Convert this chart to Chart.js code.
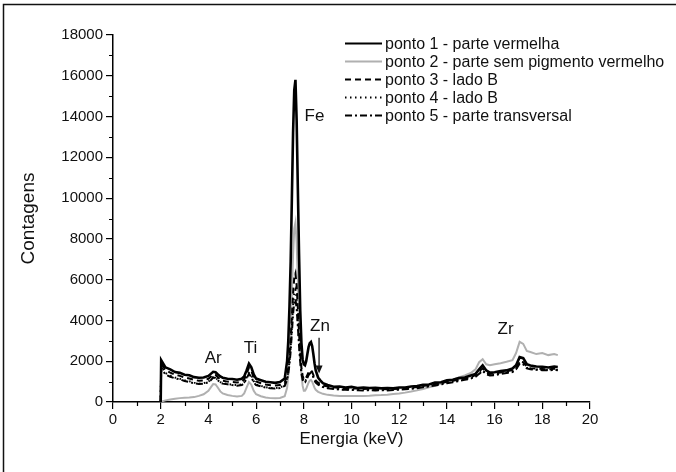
<!DOCTYPE html>
<html>
<head>
<meta charset="utf-8">
<script src="https://cdn.jsdelivr.net/npm/chart.js@4.4.1/dist/chart.umd.min.js"></script>
<style>
  html, body { margin: 0; padding: 0; background: #fff; }
  canvas { display: block; }
</style>
</head>
<body>
<canvas id="xrf" width="676" height="472"></canvas>
<script>
// energy grid (keV), shared by all spectra
const energyKeV = [
  2.0, 2.02, 2.2, 2.4, 2.6, 2.8, 3.0, 3.2, 3.4, 3.6, 3.8, 4.0, 4.1, 4.2, 4.3, 4.4, 4.5, 4.6, 4.8, 5.0,
  5.2, 5.4, 5.5, 5.6, 5.7, 5.8, 5.9, 6.0, 6.2, 6.4, 6.6, 6.8, 7.0, 7.2,
  7.3, 7.35, 7.4, 7.45, 7.5, 7.55, 7.6, 7.65, 7.7, 7.75, 7.8, 7.85, 7.9, 7.95, 8.0, 8.05,
  8.1, 8.15, 8.2, 8.25, 8.3, 8.35, 8.4, 8.45, 8.5, 8.6, 8.7, 8.8,
  9.0, 9.25, 9.5, 9.75, 10.0, 10.25, 10.5, 10.75, 11.0, 11.25, 11.5, 11.75, 12.0, 12.25, 12.5, 12.75,
  13.0, 13.25, 13.5, 13.75, 14.0, 14.25, 14.5, 14.75, 15.0, 15.2, 15.35, 15.5, 15.65, 15.8,
  16.0, 16.25, 16.5, 16.75, 16.9, 17.05, 17.2, 17.35, 17.5, 17.75, 18.0, 18.25, 18.5, 18.65
];

// counts
const ponto1 = [
  0, 2050, 1700, 1600, 1470, 1430, 1340, 1310, 1220, 1190, 1200, 1280, 1380, 1480, 1460, 1350, 1250, 1190, 1140, 1130,
  1090, 1140, 1250, 1550, 1880, 1700, 1350, 1150, 1070, 990, 970, 940, 980, 1150,
  2000, 3000, 4700, 6900, 10000, 13200, 15300, 15800, 13800, 10500, 7300, 4500, 2900, 2100, 1850, 1800,
  2000, 2350, 2700, 2880, 2940, 2750, 2350, 1900, 1550, 1200, 1050, 920,
  830, 750, 760, 710, 740, 690, 710, 690, 700, 670, 690, 670, 710, 710, 760, 780,
  840, 860, 950, 970, 1060, 1090, 1170, 1200, 1300, 1380, 1600, 1800, 1550, 1440,
  1460, 1520, 1550, 1640, 1800, 2200, 2150, 1850, 1790, 1740, 1730, 1690, 1740, 1720
];
const ponto2 = [
  0, 20, 80, 120, 160, 190, 210, 220, 240, 300, 380, 550, 720, 880, 860, 700, 520, 420, 340, 300,
  270, 300, 420, 700, 980, 850, 550, 380, 280, 220, 190, 180, 200, 280,
  700, 1300, 2300, 3600, 5300, 7200, 8500, 8800, 7800, 6000, 4000, 2500, 1400, 800, 550, 550,
  650, 800, 950, 1050, 1080, 1000, 850, 700, 600, 500, 450, 400,
  350, 320, 300, 290, 290, 300, 300, 310, 330, 340, 360, 390, 420, 460, 510, 570,
  640, 720, 800, 900, 1000, 1100, 1200, 1300, 1420, 1600, 1950, 2100, 1850, 1800,
  1850, 1900, 1970, 2050, 2400, 2950, 2850, 2500, 2450, 2350, 2400, 2300, 2350, 2300
];
const ponto3 = [
  0, 1900, 1560, 1440, 1340, 1280, 1210, 1150, 1090, 1040, 1060, 1140, 1240, 1340, 1320, 1210, 1110, 1040, 1000, 980,
  960, 990, 1100, 1380, 1680, 1520, 1200, 1010, 920, 860, 820, 810, 830, 950,
  1300, 1700, 2300, 3100, 4200, 5300, 6100, 6300, 5700, 4600, 3400, 2400, 1700, 1300, 1100, 1100,
  1200, 1330, 1460, 1540, 1560, 1480, 1330, 1180, 1060, 950, 880, 820,
  760, 720, 690, 680, 670, 660, 640, 650, 630, 640, 630, 640, 650, 680, 700, 740,
  780, 830, 880, 930, 990, 1040, 1100, 1160, 1220, 1320, 1500, 1650, 1450, 1380,
  1400, 1450, 1500, 1560, 1700, 2000, 1950, 1720, 1660, 1640, 1620, 1600, 1630, 1620
];
const ponto4 = [
  0, 1780, 1420, 1300, 1200, 1140, 1070, 1020, 950, 900, 920, 1000, 1100, 1220, 1200, 1080, 980, 920, 880, 850,
  830, 860, 960, 1200, 1420, 1300, 1020, 860, 790, 730, 690, 680, 710, 820,
  1150, 1500, 2000, 2700, 3700, 4700, 5350, 5500, 5000, 4000, 3000, 2100, 1500, 1150, 1000, 1000,
  1100, 1230, 1360, 1440, 1460, 1390, 1250, 1100, 980, 880, 820, 760,
  700, 660, 640, 620, 620, 600, 610, 590, 600, 590, 600, 610, 620, 640, 670, 700,
  740, 790, 840, 890, 950, 1000, 1060, 1110, 1180, 1260, 1420, 1560, 1400, 1330,
  1350, 1400, 1450, 1500, 1620, 1900, 1880, 1680, 1620, 1600, 1580, 1570, 1590, 1580
];
const ponto5 = [
  0, 1700, 1340, 1240, 1160, 1110, 1030, 980, 920, 880, 900, 970, 1070, 1200, 1180, 1060, 950, 900, 870, 830,
  800, 830, 920, 1150, 1380, 1230, 960, 830, 770, 710, 670, 660, 690, 790,
  1100, 1400, 1850, 2500, 3400, 4300, 4900, 5050, 4600, 3700, 2750, 1950, 1400, 1080, 950, 960,
  1060, 1190, 1320, 1400, 1420, 1350, 1220, 1070, 950, 850, 790, 730,
  670, 640, 610, 600, 590, 580, 570, 580, 570, 580, 570, 590, 600, 620, 640, 680,
  720, 760, 810, 860, 920, 970, 1030, 1090, 1150, 1230, 1380, 1520, 1360, 1300,
  1320, 1370, 1420, 1470, 1600, 1880, 1850, 1650, 1600, 1580, 1560, 1550, 1570, 1560
];

const seriesLabels = [
  'ponto 1 - parte vermelha',
  'ponto 2 - parte sem pigmento vermelho',
  'ponto 3 - lado B',
  'ponto 4 - lado B',
  'ponto 5 - parte transversal'
];

const FONT = '"Liberation Sans", Arial, sans-serif';

function toPoints(values) {
  return energyKeV.map((e, i) => ({ x: e, y: values[i] }));
}

// element labels and the Zn arrow
const peakLabels = [
  { text: 'Ar', x: 4.2, y: 2150 },
  { text: 'Ti', x: 5.77, y: 2620 },
  { text: 'Fe', x: 8.45, y: 14000 },
  { text: 'Zn', x: 8.68, y: 3700 },
  { text: 'Zr', x: 16.46, y: 3560 }
];

const pagePlugin = {
  id: 'page',
  beforeDraw(chart) {
    const ctx = chart.ctx;
    ctx.save();
    ctx.fillStyle = '#fff';
    ctx.fillRect(0, 0, chart.width, chart.height);
    ctx.restore();
  },
  afterDraw(chart) {
    const ctx = chart.ctx;
    const xs = chart.scales.x, ys = chart.scales.y;
    ctx.save();
    // frame round the figure
    ctx.strokeStyle = '#111';
    ctx.lineWidth = 1.5;
    ctx.beginPath();
    ctx.moveTo(3.5, chart.height);
    ctx.lineTo(3.5, 4.5);
    ctx.lineTo(chart.width, 4.5);
    ctx.stroke();

    // minor ticks
    ctx.lineWidth = 1.2;
    ctx.strokeStyle = '#000';
    ctx.beginPath();
    for (let v = 1; v < 20; v += 2) {
      const px = Math.round(xs.getPixelForValue(v)) + 0.5;
      ctx.moveTo(px, ys.bottom);
      ctx.lineTo(px, ys.bottom + 4);
    }
    for (let v = 1000; v < 18000; v += 2000) {
      const py = Math.round(ys.getPixelForValue(v)) + 0.5;
      ctx.moveTo(xs.left, py);
      ctx.lineTo(xs.left - 4, py);
    }
    ctx.stroke();

    // peak names
    ctx.fillStyle = '#111';
    ctx.font = '17px ' + FONT;
    ctx.textAlign = 'center';
    ctx.textBaseline = 'middle';
    peakLabels.forEach(p => {
      ctx.fillText(p.text, xs.getPixelForValue(p.x), ys.getPixelForValue(p.y));
    });

    // Zn arrow
    const ax = xs.getPixelForValue(8.64);
    const a0 = ys.getPixelForValue(3150);
    const a1 = ys.getPixelForValue(1400);
    ctx.lineWidth = 1.2;
    ctx.beginPath();
    ctx.moveTo(ax, a0);
    ctx.lineTo(ax, a1 - 6);
    ctx.stroke();
    ctx.beginPath();
    ctx.moveTo(ax - 3.5, a1 - 8);
    ctx.lineTo(ax + 3.5, a1 - 8);
    ctx.lineTo(ax, a1);
    ctx.closePath();
    ctx.fill();

    // legend
    ctx.font = '16px ' + FONT;
    ctx.textAlign = 'left';
    chart.data.datasets.forEach((ds, row) => {
      const y = 43.5 + row * 18;
      ctx.save();
      ctx.strokeStyle = ds.borderColor;
      ctx.lineWidth = Math.min(ds.borderWidth, 2);
      ctx.setLineDash(ds.borderDash || []);
      ctx.beginPath();
      ctx.moveTo(345, y);
      ctx.lineTo(382, y);
      ctx.stroke();
      ctx.restore();
      ctx.fillStyle = '#111';
      ctx.fillText(ds.label, 385, y + 1);
    });
    ctx.restore();
  }
};

const ctx = document.getElementById('xrf').getContext('2d');
new Chart(ctx, {
  type: 'line',
  data: {
    datasets: [
      { label: seriesLabels[0], data: toPoints(ponto1), borderColor: '#000', borderWidth: 2.6, order: 0 },
      { label: seriesLabels[1], data: toPoints(ponto2), borderColor: '#b0b0b0', borderWidth: 2, order: 4 },
      { label: seriesLabels[2], data: toPoints(ponto3), borderColor: '#000', borderWidth: 2, borderDash: [6, 4], order: 1 },
      { label: seriesLabels[3], data: toPoints(ponto4), borderColor: '#000', borderWidth: 2, borderDash: [1.5, 3.5], order: 2 },
      { label: seriesLabels[4], data: toPoints(ponto5), borderColor: '#000', borderWidth: 2, borderDash: [7, 3, 2, 3], order: 3 }
    ]
  },
  options: {
    responsive: false,
    animation: false,
    layout: { padding: { left: 0, top: 35, right: 86, bottom: 0 } },
    elements: { point: { radius: 0 }, line: { tension: 0 } },
    plugins: { legend: { display: false }, tooltip: { enabled: false } },
    scales: {
      x: {
        type: 'linear',
        min: 0, max: 20,
        afterFit(scale) { scale.height = 70; },
        ticks: { stepSize: 2, color: '#111', font: { family: FONT, size: 15 }, padding: 2, maxRotation: 0,
          callback: v => String(v) },
        grid: { drawOnChartArea: false, drawTicks: true, tickLength: 7, color: '#000', lineWidth: 1.2 },
        border: { color: '#000', width: 1.5 },
        title: { display: true, text: 'Energia (keV)', color: '#111', font: { family: FONT, size: 17 }, padding: { top: 0, bottom: 22 } }
      },
      y: {
        min: 0, max: 18000,
        afterFit(scale) { scale.width = 113; },
        ticks: { stepSize: 2000, color: '#111', font: { family: FONT, size: 15 }, padding: 3,
          callback: v => String(v) },
        grid: { drawOnChartArea: false, drawTicks: true, tickLength: 7, color: '#000', lineWidth: 1.2 },
        border: { color: '#000', width: 1.5 },
        title: { display: true, text: 'Contagens', color: '#111', font: { family: FONT, size: 19 }, padding: { top: 17, bottom: 0 } }
      }
    }
  },
  plugins: [pagePlugin]
});
</script>
</body>
</html>
